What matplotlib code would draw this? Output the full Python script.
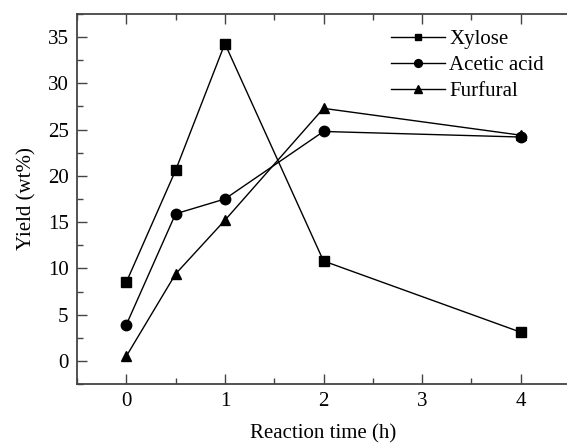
import matplotlib
matplotlib.use('Agg')
import matplotlib.pyplot as plt
from matplotlib.ticker import MultipleLocator

plt.rcParams['font.family'] = ['Liberation Serif', 'DejaVu Serif']
plt.rcParams['font.size'] = 15

# data
time_h = [0, 0.5, 1, 2, 4]
xylose = [8.5, 20.6, 34.3, 10.8, 3.1]
acetic_acid = [3.9, 15.9, 17.5, 24.8, 24.2]
furfural = [0.5, 9.4, 15.2, 27.3, 24.4]

series = [('Xylose', xylose, 's', 6.5),
          ('Acetic acid', acetic_acid, 'o', 7.5),
          ('Furfural', furfural, '^', 7.5)]

fig = plt.figure(figsize=(5.67, 4.44), dpi=100)
ax = fig.add_axes([77/567, 1 - 384/444, (570 - 77)/567, (384 - 14)/444])

for name, vals, mk, ms in series:
    ax.plot(time_h, vals, color='black', lw=1.0, marker=mk, markersize=ms, label=name)

ax.set_xlim(-0.5, 4.5)
ax.set_ylim(-2.5, 37.5)
ax.xaxis.set_major_locator(MultipleLocator(1))
ax.xaxis.set_minor_locator(MultipleLocator(0.5))
ax.yaxis.set_major_locator(MultipleLocator(5))
ax.yaxis.set_minor_locator(MultipleLocator(2.5))
ax.tick_params(which='both', direction='in', top=True, right=False, labelsize=15, width=1.0, color='#444444')
ax.tick_params(which='major', length=7, pad=6)
ax.tick_params(which='minor', length=4)
for sp in ax.spines.values():
    sp.set_linewidth(1.3)
    sp.set_color('#444444')

ax.set_xlabel('Reaction time (h)', fontsize=15, labelpad=9)
ax.set_ylabel('Yield (wt%)', fontsize=15, labelpad=8)

ax.legend(loc='upper left', bbox_to_anchor=(0.62, 0.98), frameon=False, fontsize=15,
          handlelength=2.6, handletextpad=0.2, labelspacing=0.3, borderaxespad=0,
          markerscale=0.75)

fig.savefig('out.png', dpi=100)
